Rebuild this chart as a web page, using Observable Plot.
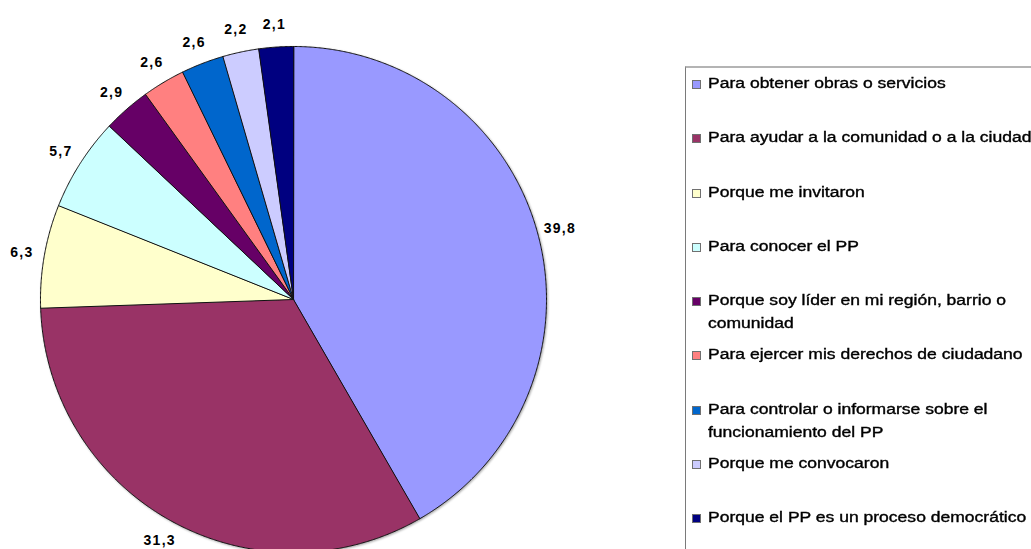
<!DOCTYPE html>
<html>
<head>
<meta charset="utf-8">
<script src="https://cdn.jsdelivr.net/npm/d3@7"></script>
<script src="https://cdn.jsdelivr.net/npm/@observablehq/plot@0.6"></script>
<style>
  html, body { margin: 0; padding: 0; background: #fff; overflow: hidden; }
  #chart { position: relative; width: 1031px; height: 549px; overflow: hidden;
           font-family: "Liberation Sans", Arial, sans-serif; }
  #chart svg { position: absolute; left: 0; top: 0; }
  #legend { position: absolute; left: 685px; top: 66px; width: 420px; height: 520px;
            border-left: 1px solid #7a7a7a; border-top: 2px solid #b4b4b4; }
  .item { position: absolute; left: 6px; height: 20px; }
  .swatch { position: absolute; left: 0; top: 5px; width: 7px; height: 7px;
            border: 1px solid #707070; }
  .label { position: absolute; left: 16px; top: 0; white-space: pre; font-size: 13.8px;
           line-height: 23px; color: #000; transform: scaleX(1.27); transform-origin: 0 0;
           margin-top: -3px; -webkit-text-stroke: 0.35px #000; }
</style>
</head>
<body>
<div id="chart"><div id="legend"></div></div>
<script>
// Motivos de participación en el Presupuesto Participativo (%)
const categories = [
  "Para obtener obras o servicios",
  "Para ayudar a la comunidad o a la ciudad",
  "Porque me invitaron",
  "Para conocer el PP",
  "Porque soy líder en mi región, barrio o\ncomunidad",
  "Para ejercer mis derechos de ciudadano",
  "Para controlar o informarse sobre el\nfuncionamiento del PP",
  "Porque me convocaron",
  "Porque el PP es un proceso democrático"
];
const values = [39.8, 31.3, 6.3, 5.7, 2.9, 2.6, 2.6, 2.2, 2.1];
const colors = ["#9999ff", "#993366", "#ffffcc", "#ccffff", "#660066",
                "#ff8080", "#0066cc", "#ccccff", "#000080"];

const W = 1031, H = 549;
const cx = 293, cy = 299, R = 253;

const rows = categories.map((c, i) => ({category: c, value: values[i]}));

// Slice angles, clockwise from 12 o'clock
const arcs = d3.pie().sort(null).value(d => d.value).startAngle(0).endAngle(2 * Math.PI)(rows);

// Outline of every slice in unit-circle space: centre, then points along the arc
const outline = [];
arcs.forEach(a => {
  outline.push({category: a.data.category, x: 0, y: 0});
  const n = Math.max(2, Math.ceil((a.endAngle - a.startAngle) / 0.005));
  for (let k = 0; k <= n; k++) {
    const t = a.startAngle + (a.endAngle - a.startAngle) * k / n;
    outline.push({category: a.data.category, x: Math.sin(t), y: Math.cos(t)});
  }
});

// Value labels just outside each slice's mid-angle
const labelR = 1.09;
const labels = arcs.map(a => {
  const m = (a.startAngle + a.endAngle) / 2;
  return {x: labelR * Math.sin(m), y: labelR * Math.cos(m), value: a.data.value};
});
const fmt = v => d3.format(".1f")(v).replace(".", ",");

const chart = Plot.plot({
  width: W,
  height: H,
  margin: 0,
  x: {domain: [-cx / R, (W - cx) / R], axis: null},
  y: {domain: [(cy - H) / R, cy / R], axis: null},
  color: {domain: categories, range: colors},
  marks: [
    Plot.line(outline, {
      x: "x", y: "y", z: "category", fill: "category",
      stroke: "#111", strokeWidth: 1, curve: "linear-closed"
    }),
    Plot.text(labels, {
      x: "x", y: "y", text: d => fmt(d.value),
      fontSize: 14, fontWeight: "bold", fill: "#000"
    })
  ]
});
chart.style.fontFamily = '"Liberation Sans", Arial, sans-serif';
chart.querySelectorAll('g[aria-label="line"]').forEach(g => {
  g.style.filter = "drop-shadow(1px 1px 1px rgba(0,0,0,0.35))";
});
chart.querySelectorAll('g[aria-label="text"]').forEach(g => {
  g.style.letterSpacing = "1.3px";
});
document.getElementById("chart").prepend(chart);

// Legend
const legend = document.getElementById("legend");
const rowStep = 54.25;
categories.forEach((c, i) => {
  const item = document.createElement("div");
  item.className = "item";
  item.style.top = (7 + i * rowStep) + "px";
  const sw = document.createElement("div");
  sw.className = "swatch";
  sw.style.background = colors[i];
  const lb = document.createElement("div");
  lb.className = "label";
  lb.textContent = c;
  item.append(sw, lb);
  legend.append(item);
});
</script>
</body>
</html>
